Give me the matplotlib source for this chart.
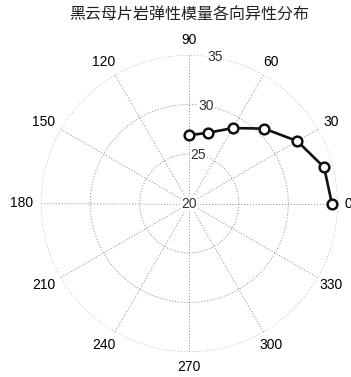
import numpy as np
import matplotlib
matplotlib.use("Agg")
import matplotlib.pyplot as plt
from matplotlib.transforms import offset_copy

plt.rcParams['font.family'] = ['Liberation Sans', 'Noto Sans CJK SC', 'DejaVu Sans']

# Elastic modulus (GPa) versus bedding angle (degrees)
angles_deg = [0, 15, 30, 45, 60, 75, 90]
modulus = [34.4, 34.1, 32.6, 30.7, 28.8, 27.4, 26.9]
r_ticks = [20, 25, 30, 35]
theta_ticks = list(range(0, 360, 30))
title_text = "黑云母片岩弹性模量各向异性分布"

W, H = 351, 377
fig = plt.figure(figsize=(W / 100, H / 100), dpi=100)
cx, cy, R = 189.3, 203.5, 148.5
ax = fig.add_axes([(cx - R) / W, 1 - (cy + R) / H, 2 * R / W, 2 * R / H],
                  projection='polar')

rmin, rmax = r_ticks[0], r_ticks[-1]
ax.set_rlim(rmin, rmax)
ax.spines['polar'].set_visible(False)
ax.grid(False)

grid_kw = dict(color='#9a9a9a', linewidth=0.7, linestyle=(0, (1.2, 1.8)), zorder=1)
tt = np.linspace(0, 2 * np.pi, 721)
for r in r_ticks[1:]:
    ax.plot(tt, np.full_like(tt, r), **grid_kw)
for t in range(0, 180, 30):
    th = np.deg2rad(t)
    ax.plot([th, th], [rmax, rmin], **grid_kw)
    ax.plot([th + np.pi, th + np.pi], [rmax, rmin], **grid_kw)
ax.set_xticks([])
ax.set_yticks([])

# radial labels along the 80 degree ray
for r in r_ticks:
    ax.text(np.deg2rad(80), r, str(r), ha='center', va='center', fontsize=10,
            color='#333333', zorder=2,
            bbox=dict(facecolor='white', edgecolor='none', pad=0.3))

# angle labels just outside the outer ring
for t in theta_ticks:
    c = np.cos(np.deg2rad(t))
    dx = -4 if (c < -0.01 or t == 0) else 0
    tr = offset_copy(ax.transData, fig=fig, x=dx, y=0, units='dots')
    ax.text(np.deg2rad(t), rmin + 1.1 * (rmax - rmin), str(t), ha='center',
            va='center', fontsize=10, color='black', clip_on=False,
            transform=tr)

ax.plot(np.deg2rad(angles_deg), modulus, color='#111111', linewidth=1.9,
        marker='o', markersize=7, markerfacecolor='white',
        markeredgecolor='#111111', markeredgewidth=1.8, zorder=3, clip_on=False)

fig.text(cx / W, 1 - 15 / H, title_text, ha='center', va='center',
         fontsize=11.5, color='#222222', family=['Noto Sans CJK SC', 'DejaVu Sans'])

fig.savefig('out.png', dpi=100, facecolor='white')
